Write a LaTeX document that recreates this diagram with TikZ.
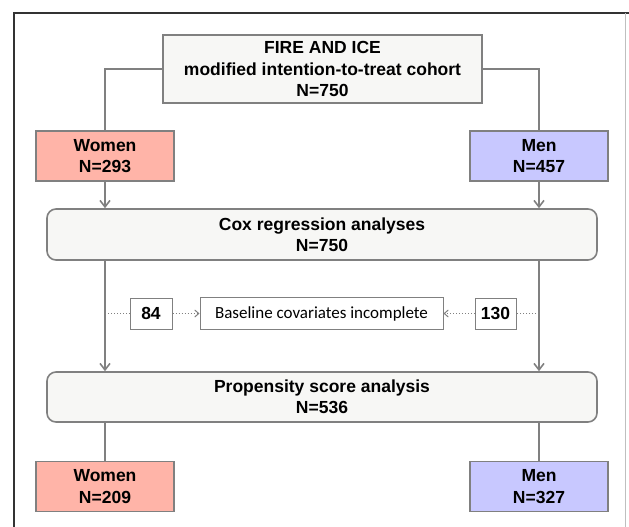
\documentclass[tikz,border=0pt]{standalone}
\usepackage{fontspec}
\setmainfont{Liberation Sans}
\newfontfamily\calibrifont{Carlito}
\usepackage{tikz}
\usetikzlibrary{arrows.meta}

\definecolor{linegrey}{HTML}{808080}
\definecolor{boxfill}{HTML}{F7F7F5}
\definecolor{womenfill}{HTML}{FFB4A8}
\definecolor{menfill}{HTML}{C8C8FF}

\begin{document}
\begin{tikzpicture}[x=1pt, y=-1pt,
    box/.style={draw=linegrey, line width=1.6pt, inner sep=0pt, align=center,
        font=\fontsize{17.5}{21.5}\selectfont\bfseries},
    women/.style={box, fill=womenfill, minimum width=138pt, minimum height=50pt},
    men/.style={box, fill=menfill, minimum width=138pt, minimum height=50pt},
    wide/.style={box, fill=boxfill, rounded corners=9pt, minimum width=550pt, minimum height=50pt},
    small/.style={box, fill=white, line width=1pt, minimum height=31pt},
    link/.style={draw=linegrey, line width=1.6pt},
    dots/.style={draw=linegrey, line width=1pt, dotted},
    >={Straight Barb[length=6.5pt, width=10pt]}]
    \useasboundingbox (0,0) rectangle (629,527);
    % frame
    \draw[line width=1.6pt, black!80] (14,527) -- (14,13) -- (629,13);
    \draw[line width=1pt, black!25] (625,13) -- (625,527);

    \node (cohort) at (322.5,69) [box, fill=boxfill, minimum width=319pt, minimum height=68pt]
        {FIRE AND ICE\\modified intention-to-treat cohort\\N=750};
    \node (women1) at (105,156) [women] {Women\\N=293};
    \node (men1) at (539,156) [men] {Men\\N=457};
    \node (cox) at (322,234.5) [wide, minimum height=51pt] {Cox regression analyses\\N=750};
    \node (n84) at (151,313.5) [small, minimum width=42pt] {84};
    \node (baseline) at (321.5,313.5) [small, minimum width=243pt, minimum height=32pt,
        font=\fontsize{17}{20}\selectfont\calibrifont] {Baseline covariates incomplete};
    \node (n130) at (495.5,313.5) [small, minimum width=41pt] {130};
    \node (prop) at (322,397) [wide] {Propensity score analysis\\N=536};
    \node (women2) at (105,486.5) [women] {Women\\N=209};
    \node (men2) at (539,486.5) [men] {Men\\N=327};

    \draw[link] (cohort.west) -| (women1.north);
    \draw[link] (cohort.east) -| (men1.north);
    \draw[link, ->] (women1.south) -- (women1.south |- cox.north);
    \draw[link, ->] (men1.south) -- (men1.south |- cox.north);
    \draw[link, ->] (women1.south |- cox.south) -- (women1.south |- prop.north);
    \draw[link, ->] (men1.south |- cox.south) -- (men1.south |- prop.north);
    \draw[link] (women2.north |- prop.south) -- (women2.north);
    \draw[link] (men2.north |- prop.south) -- (men2.north);

    \draw[dots] (women1.south |- n84.west) -- (n84.west);
    \draw[dots, ->, >={Straight Barb[length=4pt, width=7pt]}] (n84.east) -- (baseline.west);
    \draw[dots] (men1.south |- n130.east) -- (n130.east);
    \draw[dots, ->, >={Straight Barb[length=4pt, width=7pt]}] (n130.west) -- (baseline.east);
\end{tikzpicture}
\end{document}
